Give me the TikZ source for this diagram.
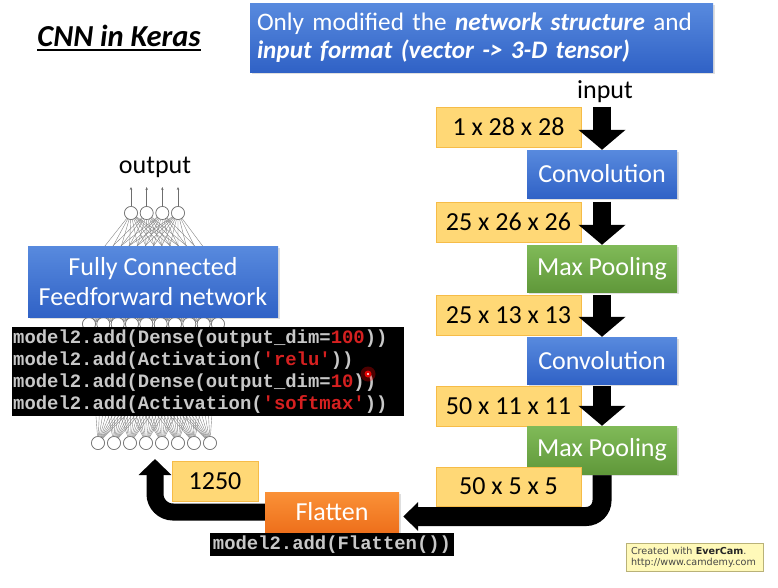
\documentclass[tikz,border=0pt]{standalone}
\usepackage{fontspec}
\setmainfont{Carlito}
\newfontfamily\codefont{Liberation Mono}
\newfontfamily\markfont{DejaVu Sans}
\usetikzlibrary{arrows.meta,shadows,calc}

\definecolor{boxblueT}{RGB}{88,138,222}
\definecolor{boxblueB}{RGB}{48,98,198}
\definecolor{boxgreenT}{RGB}{128,186,88}
\definecolor{boxgreenB}{RGB}{96,152,58}
\definecolor{boxorangeT}{RGB}{250,145,55}
\definecolor{boxorangeB}{RGB}{238,112,28}
\definecolor{dimfill}{RGB}{255,216,118}
\definecolor{dimdraw}{RGB}{246,188,72}
\definecolor{codegray}{RGB}{200,200,200}
\definecolor{codered}{RGB}{214,32,32}
\definecolor{netgray}{RGB}{110,110,110}
\definecolor{markfill}{RGB}{255,249,185}
\definecolor{markdraw}{RGB}{185,178,120}
\definecolor{marktext}{RGB}{70,70,70}

\newcommand{\red}[1]{\textcolor{codered}{#1}}
\newcommand{\qt}{\textquotesingle}

\begin{document}
\begin{tikzpicture}[x=1pt,y=-1pt,
  base/.style={inner sep=0pt, font=\fontsize{26}{30}\selectfont},
  shadowed/.style={drop shadow={opacity=0.25,shadow xshift=1.5pt,shadow yshift=-1.5pt}},
  bluebox/.style={base, shadowed, text=white, top color=boxblueT, bottom color=boxblueB},
  greenbox/.style={base, shadowed, text=white, top color=boxgreenT, bottom color=boxgreenB},
  orangebox/.style={base, shadowed, text=white, top color=boxorangeT, bottom color=boxorangeB},
  layerbox/.style={minimum width=150pt, minimum height=47pt},
  dimbox/.style={base, fill=dimfill, draw=dimdraw, line width=1pt, text=black,
                 minimum width=145pt, minimum height=40pt},
  neuron/.style={circle, draw=netgray, fill=white, line width=0.6pt,
                 minimum size=13pt, inner sep=0pt},
  synapse/.style={draw=netgray!85, line width=0.4pt},
  codebox/.style={fill=black, inner sep=0pt},
  codeline/.style={inner sep=0pt, text=codegray, font=\codefont\bfseries\fontsize{18.9}{22}\selectfont},
  downarrow/.style={line width=18pt, -{Triangle[width=46pt,length=20pt]}},
  bigarrow/.style={line width=19pt, -{Triangle[width=28pt,length=15pt]}},
  backarrow/.style={line width=17pt, -{Triangle[width=32pt,length=16pt]}}
]
\useasboundingbox (0,0) rectangle (778,587);

% ---------- title ----------
\node[inner sep=0pt, font=\fontsize{30.5}{34}\selectfont\bfseries\itshape] (title) at (119,36) {CNN in Keras};
\draw[line width=1.3pt] (title.west |- 0,50) -- (title.east |- 0,50);

% ---------- note box ----------
\node[bluebox, minimum width=463pt, minimum height=69pt, text width=449pt, align=left,
      inner xsep=7pt, font=\fontsize{25.2}{28}\selectfont] (note) at (481.5,37.5)
  {Only modified the \textbf{\textit{network structure}} and\\
   \textbf{\textit{input format (vector -> 3-D tensor)}}};

% ---------- fully connected network drawing ----------
\foreach \i in {1,...,4}
  \node[neuron] (o\i) at ({131+15.67*(\i-1)},213) {};
\foreach \i in {1,...,10}
  \node[neuron] (g\i) at ({78+16.67*(\i-1)},280) {};
\foreach \i in {1,...,10}
  \node[neuron] (h\i) at ({89+14.33*(\i-1)},324) {};
\foreach \i in {1,...,8}
  \node[neuron] (x\i) at ({98+16*(\i-1)},443) {};
\foreach \a in {1,...,4}
  \foreach \b in {1,...,10}
    \draw[synapse] (o\a) -- (g\b);
\foreach \a in {1,...,10}
  \foreach \b in {1,...,10}
    \draw[synapse] (g\a) -- (h\b);
\foreach \a in {1,...,10}
  \foreach \b in {1,...,8}
    \draw[synapse] (h\a) -- (x\b);
% neurons again, above the synapses
\foreach \i in {1,...,4}
  \node[neuron] at (o\i) {};
\foreach \i in {1,...,10}
  \node[neuron] at (h\i) {};
\foreach \i in {1,...,8}
  \node[neuron] at (x\i) {};
% output arrows
\foreach \i in {1,...,4} {
  \coordinate (t\i) at ($(o\i)+(0,-26)$);
  \draw[netgray, line width=0.6pt, -{Stealth[length=3pt,width=2.6pt]}] (o\i) -- (t\i);
}
\node[base] (outlbl) at (155,167) {output};

\node[bluebox, minimum width=250pt, minimum height=71pt, align=center,
      font=\fontsize{26}{30}\selectfont] (fc) at (153,281.5)
  {Fully Connected\\Feedforward network};

% ---------- code for the dense layers ----------
\node[codebox, minimum width=392pt, minimum height=89pt] (code) at (208,371.5) {};
\node[codeline, anchor=base west] (c1) at (13,343) {model2.add(Dense(output\_dim=\red{100}))};
\node[codeline, anchor=base west] (c2) at (13,365) {model2.add(Activation(\red{\qt relu\qt}))};
\node[codeline, anchor=base west] (c3) at (13,387) {model2.add(Dense(output\_dim=\red{10}))};
\node[codeline, anchor=base west] (c4) at (13,409) {model2.add(Activation(\red{\qt softmax\qt}))};
% pointer mark
\node[circle, fill=red, fill opacity=0.3, minimum size=15pt, inner sep=0pt] (glow) at (368,374) {};
\node[circle, fill=red!90!black, minimum size=7pt, inner sep=0pt] (dot) at (glow) {};
\node[circle, fill=white, minimum size=2.4pt, inner sep=0pt] (dotc) at (glow) {};

% ---------- convolutional pipeline ----------
\node[base] (inlbl) at (605,92) {input};

\node[dimbox] (d1) at (508.5,127) {1 x 28 x 28};
\node[bluebox, layerbox, minimum height=48pt] (conv1) at (602,174) {Convolution};
\node[dimbox] (d2) at (508.5,222) {25 x 26 x 26};
\node[greenbox, layerbox] (mp1) at (602,268.5) {Max Pooling};
\node[dimbox] (d3) at (508.5,315) {25 x 13 x 13};
\node[bluebox, layerbox] (conv2) at (602,360.5) {Convolution};
\node[dimbox] (d4) at (508.5,406) {50 x 11 x 11};

% flatten path arrow, drawn below the boxes it joins
\node[orangebox, minimum width=134pt, minimum height=40pt] (flat) at (332,512) {Flatten};
\draw[bigarrow, rounded corners=16pt] (602,474) |- ($(flat.east)+(4,4.5)$);

\node[greenbox, layerbox, minimum height=48pt] (mp2) at (602,450) {Max Pooling};
\node[dimbox, minimum height=39pt] (d5) at (508.5,486.5) {50 x 5 x 5};

\draw[downarrow] (conv1.north |- d1.north) -- (conv1.north);
\draw[downarrow] (mp1.north |- d2.north) -- (mp1.north);
\draw[downarrow] (conv2.north |- d3.north) -- (conv2.north);
\draw[downarrow] (mp2.north |- d4.north) -- (mp2.north);

% back to the fully connected network
\coordinate (fcin) at (155,459);
\draw[backarrow, rounded corners=18pt] (flat.west) -| (fcin);
\node[dimbox, minimum width=86pt] (n1250) at (215,481) {1250};

\node[codebox, text=codegray, minimum width=244pt, minimum height=23pt,
      font=\codefont\bfseries\fontsize{18.9}{22}\selectfont] (flatcode) at (332,544.5)
  {model2.add(Flatten())};

% ---------- recorder mark ----------
\node[fill=markfill, draw=markdraw, line width=0.6pt, inner xsep=5pt, inner ysep=2pt,
      minimum width=137pt, minimum height=28pt, text width=127pt, align=left,
      text=marktext, font=\markfont\fontsize{9.6}{11}\selectfont] (mark) at (694.5,557)
  {Created with \textbf{\color{black!85}EverCam}.\\http://www.camdemy.com};
\end{tikzpicture}
\end{document}
